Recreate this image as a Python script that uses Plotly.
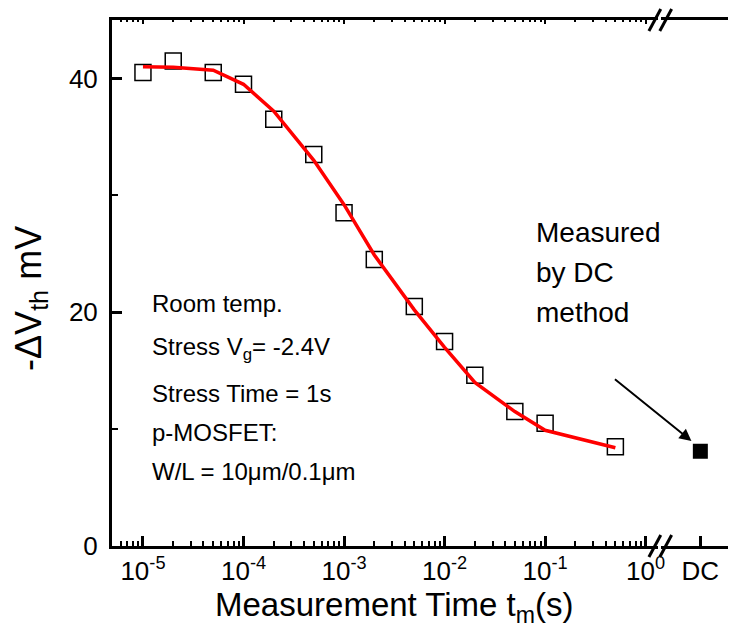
import plotly.graph_objects as go

# ---- data ----
t_meas = [1e-5, 2e-5, 5e-5, 1e-4, 2e-4, 5e-4, 1e-3, 2e-3, 5e-3, 1e-2, 2e-2, 5e-2, 1e-1, 5e-1]
dvth_meas = [40.5, 41.5, 40.5, 39.5, 36.5, 33.5, 28.5, 24.5, 20.5, 17.5, 14.6, 11.5, 10.5, 8.5]
dvth_fit = [41.0, 40.95, 40.7, 39.5, 37.2, 33.0, 29.2, 24.9, 20.2, 17.0, 14.0, 11.5, 9.9, 8.4]
dc_category = ["DC"]
dc_value = [8.1]

x_tickvals = [1e-5, 1e-4, 1e-3, 1e-2, 1e-1, 1e0]
x_ticktext = ["10<sup>-5</sup>", "10<sup>-4</sup>", "10<sup>-3</sup>",
              "10<sup>-2</sup>", "10<sup>-1</sup>", "10<sup>0</sup>"]
y_tickvals = [0, 20, 40]

FONT = "Liberation Sans, Arial, sans-serif"
# page body has an 8px margin; figure sized to fill the rest of the window
W, H = 728, 636
L, R, T, B = 104, 0, 12, 98
PW = W - L - R
PH = H - T - B
OFF = 8  # screen offset


def px(xs):
    return (xs - OFF - L) / PW


def py(ys):
    return (H - B - (ys - OFF)) / PH


fig = go.Figure()

fig.add_trace(go.Scatter(
    x=t_meas, y=dvth_meas, mode="markers", xaxis="x", yaxis="y",
    marker=dict(symbol="square-open", size=16, color="black", line=dict(width=1.5, color="black")),
    showlegend=False))
fig.add_trace(go.Scatter(
    x=t_meas, y=dvth_fit, mode="lines", xaxis="x", yaxis="y",
    line=dict(color="#ff0000", width=3.5), showlegend=False))
fig.add_trace(go.Scatter(
    x=dc_category, y=dc_value, mode="markers", xaxis="x2", yaxis="y",
    marker=dict(symbol="square", size=15, color="black"), showlegend=False))
# invisible trace to carry the top (mirror) tick axis
fig.add_trace(go.Scatter(
    x=t_meas, y=dvth_meas, mode="markers", xaxis="x3", yaxis="y",
    marker=dict(opacity=0), hoverinfo="skip", showlegend=False))

axis_common = dict(showline=True, linewidth=3, linecolor="black", showgrid=False,
                   zeroline=False, ticks="inside", tickwidth=3, tickcolor="black",
                   tickfont=dict(family=FONT, size=26, color="black"))

x_range = [-5.308, 0.121]

fig.update_layout(
    width=W, height=H,
    margin=dict(l=L, r=R, t=T, b=B),
    paper_bgcolor="white", plot_bgcolor="white",
    font=dict(family=FONT, color="black"),
    xaxis=dict(type="log", domain=[0, px(664)], range=x_range,
               tickmode="array", tickvals=x_tickvals, ticktext=x_ticktext,
               ticklen=10, mirror=True, anchor="y",
               minor=dict(ticks="inside", ticklen=5, tickwidth=2, tickcolor="black", dtick="D1", showgrid=False),
               **axis_common),
    xaxis3=dict(type="log", overlaying="x", side="top", anchor="y", range=x_range,
                tickmode="array", tickvals=x_tickvals, showticklabels=False,
                ticks="inside", ticklen=4, tickwidth=2, tickcolor="black",
                showline=False, showgrid=False, zeroline=False,
                minor=dict(ticks="inside", ticklen=2, tickwidth=1.5, tickcolor="black", dtick="D1", showgrid=False)),
    xaxis2=dict(type="category", domain=[px(667), 1], range=[-0.58, 0.42],
                ticklen=10, mirror=True, anchor="y", **axis_common),
    yaxis=dict(range=[0, 45], tickmode="array", tickvals=y_tickvals, ticklen=10,
               anchor="x", ticklabelstandoff=6,
               minor=dict(ticks="inside", ticklen=6, tickwidth=2, tickcolor="black", dtick=10, showgrid=False),
               **axis_common),
)

# axis break marks
shapes = []
for yc in (546, 20):
    for dx in (0, 11):
        shapes.append(dict(type="line", xref="paper", yref="paper",
                           x0=px(655 + dx), y0=py(yc + 11), x1=px(667 + dx), y1=py(yc - 11),
                           line=dict(color="black", width=3)))
fig.update_layout(shapes=shapes)

ann = []
# axis titles
ann.append(dict(text="Measurement Time t<sub>m</sub>(s)", xref="paper", yref="paper",
                x=px(398), y=py(607), xanchor="center", yanchor="middle", showarrow=False,
                font=dict(family=FONT, size=33, color="black")))
ann.append(dict(text="-ΔV<sub>th</sub> mV", xref="paper", yref="paper",
                x=px(30), y=py(298), xanchor="center", yanchor="middle", showarrow=False,
                textangle=-90, font=dict(family=FONT, size=36, color="black")))

left_lines = [("Room temp.", 303), ("Stress V<sub>g</sub>= -2.4V", 348),
              ("Stress Time = 1s", 393), ("p-MOSFET:", 432),
              ("W/L = 10μm/0.1μm", 471)]
for txt, yc in left_lines:
    ann.append(dict(text=txt, xref="paper", yref="paper", x=px(150), y=py(yc),
                    xanchor="left", yanchor="middle", showarrow=False,
                    font=dict(family=FONT, size=24, color="black")))

right_lines = [("Measured", 233), ("by DC", 272), ("method", 312)]
for txt, yc in right_lines:
    ann.append(dict(text=txt, xref="paper", yref="paper", x=px(539), y=py(yc),
                    xanchor="left", yanchor="middle", showarrow=False,
                    font=dict(family=FONT, size=28, color="black")))

# arrow pointing to DC point
ann.append(dict(text="", xref="paper", yref="paper", x=px(698), y=py(441),
                ax=-78, ay=-63, showarrow=True, arrowhead=2, arrowsize=1.2,
                arrowwidth=2, arrowcolor="black"))

fig.update_layout(annotations=ann)

fig.write_html("out.html")
